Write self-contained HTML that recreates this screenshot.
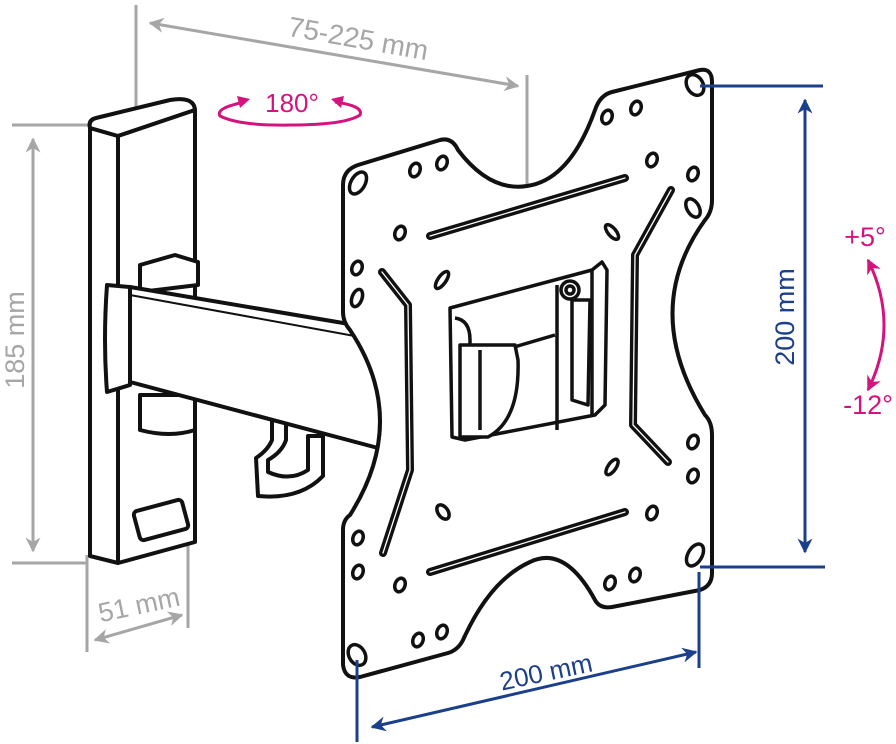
<!DOCTYPE html>
<html><head><meta charset="utf-8"><style>
html,body{margin:0;padding:0;background:#fff;}
svg{display:block;}
text{font-family:"Liberation Sans","DejaVu Sans",sans-serif;}
</style></head><body>
<svg width="896" height="744" viewBox="0 0 896 744" xmlns="http://www.w3.org/2000/svg">
<defs>
<marker id="ag" viewBox="0 0 10 10" refX="9" refY="5" markerWidth="5" markerHeight="5" orient="auto-start-reverse"><path d="M0,0 L10,5 L0,10 L3,5 Z" fill="#a6a6a6"/></marker>
<marker id="ab" viewBox="0 0 10 10" refX="9" refY="5" markerWidth="5" markerHeight="5" orient="auto-start-reverse"><path d="M0,0 L10,5 L0,10 L3,5 Z" fill="#1b3f8b"/></marker>
<marker id="am" viewBox="0 0 10 10" refX="9" refY="5" markerWidth="5" markerHeight="5" orient="auto-start-reverse"><path d="M0,0 L10,5 L0,10 L3,5 Z" fill="#d4137f"/></marker>
</defs>

<g stroke="#a6a6a6" stroke-width="3" fill="none">
<line x1="136" y1="5" x2="136" y2="112"/>
<line x1="527" y1="75" x2="527" y2="187"/>
<line x1="150" y1="23" x2="518" y2="86" marker-start="url(#ag)" marker-end="url(#ag)"/>
<line x1="12" y1="125" x2="88" y2="125"/>
<line x1="12" y1="563" x2="88" y2="563"/>
<line x1="33" y1="139" x2="33" y2="551" marker-start="url(#ag)" marker-end="url(#ag)"/>
<line x1="87" y1="555" x2="87" y2="652"/>
<line x1="188" y1="543" x2="188" y2="628"/>
<line x1="95" y1="640" x2="182" y2="615" marker-start="url(#ag)" marker-end="url(#ag)"/>
</g>
<text x="358" y="48" font-size="28" fill="#a6a6a6" text-anchor="middle" transform="rotate(10 358 40)">75-225 mm</text>
<text x="15" y="349" font-size="27" fill="#a6a6a6" text-anchor="middle" transform="rotate(-90 15 340)">185 mm</text>
<text x="139" y="614" font-size="27" fill="#a6a6a6" text-anchor="middle" transform="rotate(-12 139 605)">51 mm</text>

<g stroke="#111" stroke-width="4" fill="#fff" stroke-linejoin="round">
<path d="M90,128 L118,136 L118,563 L90,556 Z"/>
<path d="M90,128 Q88,120 96,118 L170,100 Q194,96 195,110 L118,136 Z"/>
<path d="M118,136 L195,110 L195,542 L118,563 Z"/>
<rect x="136" y="505" width="50" height="30" rx="4" transform="rotate(-15 161 520)"/>
<path d="M140,265 L175,255 L198,262 L198,285 L140,292 Z"/>
<path d="M140,395 L195,395 L195,430 Q170,438 140,430 Z"/>
<path d="M272,420 L286,422 L286,440 Q282,452 268,460 L268,472 Q290,482 308,470 L308,436 L323,436 L323,476 Q300,500 258,496 L256,458 Q268,450 272,440 Z"/>
<path d="M130,287 L355,325 Q395,380 378,448 L130,382 Z"/>
<path d="M130,295 L360,337" fill="none" stroke-width="2"/>
<path d="M107,285 L130,287 L130,385 L107,392 Q103,340 107,285 Z"/>
</g>

<g stroke="#111" stroke-width="4" fill="#fff" stroke-linejoin="round">
<path d="M343,185 Q343,170 358,165 L440,140 Q452,137 458,150 Q490,192 527,186 Q570,180 595,110 Q600,95 612,92 L700,70 Q712,68 712,82 L712,200 Q712,212 705,220 Q640,310 705,415 Q712,422 712,435 L712,573 Q712,586 700,590 L612,607 Q600,609 595,600 Q565,545 530,562 Q490,580 463,640 Q458,650 448,653 L360,677 Q345,680 343,665 L343,530 Q343,520 350,515 Q410,420 350,330 Q343,322 343,312 Z"/>
</g>
<g stroke="#111" stroke-width="3.5" fill="#fff">
<ellipse cx="358" cy="183" rx="7" ry="12" transform="rotate(30 358 183)"/>
<ellipse cx="695" cy="85" rx="8" ry="11" transform="rotate(-30 695 85)"/>
<ellipse cx="695" cy="555" rx="7" ry="12" transform="rotate(30 695 555)"/>
<ellipse cx="357" cy="655" rx="8" ry="11" transform="rotate(-30 357 655)"/>
<ellipse cx="415" cy="170" rx="5" ry="7" transform="rotate(20 415 170)"/>
<ellipse cx="442" cy="163" rx="5" ry="7" transform="rotate(20 442 163)"/>
<ellipse cx="607" cy="117" rx="5" ry="7" transform="rotate(20 607 117)"/>
<ellipse cx="636" cy="108" rx="5" ry="7" transform="rotate(20 636 108)"/>
<ellipse cx="652" cy="160" rx="5" ry="7" transform="rotate(20 652 160)"/>
<ellipse cx="693" cy="174" rx="5" ry="7" transform="rotate(20 693 174)"/>
<ellipse cx="693" cy="208" rx="6" ry="10" transform="rotate(-30 693 208)"/>
<ellipse cx="400" cy="233" rx="5" ry="7" transform="rotate(20 400 233)"/>
<ellipse cx="612" cy="232" rx="4" ry="9" transform="rotate(-40 612 232)"/>
<ellipse cx="357" cy="268" rx="5" ry="7" transform="rotate(20 357 268)"/>
<ellipse cx="357" cy="298" rx="5" ry="9" transform="rotate(20 357 298)"/>
<ellipse cx="442" cy="280" rx="4" ry="10" transform="rotate(35 442 280)"/>
<ellipse cx="358" cy="538" rx="5" ry="7" transform="rotate(20 358 538)"/>
<ellipse cx="358" cy="572" rx="5" ry="7" transform="rotate(20 358 572)"/>
<ellipse cx="400" cy="585" rx="5" ry="7" transform="rotate(20 400 585)"/>
<ellipse cx="418" cy="640" rx="5" ry="7" transform="rotate(20 418 640)"/>
<ellipse cx="442" cy="632" rx="5" ry="7" transform="rotate(20 442 632)"/>
<ellipse cx="610" cy="583" rx="5" ry="7" transform="rotate(20 610 583)"/>
<ellipse cx="635" cy="575" rx="5" ry="7" transform="rotate(20 635 575)"/>
<ellipse cx="652" cy="513" rx="5" ry="7" transform="rotate(20 652 513)"/>
<ellipse cx="693" cy="442" rx="5" ry="7" transform="rotate(20 693 442)"/>
<ellipse cx="693" cy="476" rx="5" ry="7" transform="rotate(20 693 476)"/>
<ellipse cx="612" cy="467" rx="4" ry="9" transform="rotate(35 612 467)"/>
<ellipse cx="443" cy="512" rx="5" ry="8" transform="rotate(-35 443 512)"/>
<ellipse cx="530" cy="405" rx="5" ry="7" transform="rotate(20 530 405)"/>
</g>
<g stroke="#111" fill="none" stroke-linecap="round" stroke-linejoin="round">
<g stroke-width="8">
<path d="M430,236 L625,178"/>
<path d="M430,572 L625,512"/>
<path d="M382,272 L408,305 L410,470 L383,553"/>
<path d="M671,190 L635,255 L633,425 L668,462"/>
</g>
<g stroke="#fff" stroke-width="1.3">
<path d="M430,236 L625,178"/>
<path d="M430,572 L625,512"/>
<path d="M382,272 L408,305 L410,470 L383,553"/>
<path d="M671,190 L635,255 L633,425 L668,462"/>
</g>
</g>
<g stroke="#111" stroke-width="3.5" fill="#fff" stroke-linejoin="round">
<path d="M450,308 L592,270 L602,262 L607,270 L605,405 L595,415 L465,440 L452,437 Z"/>
<path d="M455,318 Q470,320 470,340 L470,360 L555,335" fill="none"/>
<path d="M460,345 L515,345 L518,360 Q520,420 488,437 L460,437 Z"/>
<path d="M480,350 L480,430" fill="none"/>
<path d="M557,285 L557,430" fill="none"/>
<path d="M572,300 L572,400 L588,405 L590,300 Z"/>
<circle cx="570" cy="290" r="9"/>
<circle cx="570" cy="290" r="4"/>
<path d="M592,270 L592,415" fill="none"/>
</g>

<g stroke="#1b3f8b" stroke-width="3" fill="none">
<line x1="700" y1="86" x2="823" y2="86"/>
<line x1="700" y1="567" x2="825" y2="567"/>
<line x1="805" y1="100" x2="805" y2="552" marker-start="url(#ab)" marker-end="url(#ab)"/>
<line x1="357" y1="660" x2="357" y2="742"/>
<line x1="699" y1="572" x2="699" y2="668"/>
<line x1="372" y1="727" x2="696" y2="652" marker-start="url(#ab)" marker-end="url(#ab)"/>
</g>
<text x="785" y="326" font-size="27" fill="#1b3f8b" text-anchor="middle" transform="rotate(-90 785 317)">200 mm</text>
<text x="546" y="681" font-size="26" fill="#1b3f8b" text-anchor="middle" transform="rotate(-12 546 672)">200 mm</text>

<text x="292" y="112" font-size="26" fill="#d4137f" text-anchor="middle">180°</text>
<path d="M245,102 Q215,108 220,116 Q240,126 290,125 Q345,125 360,115 Q364,106 335,102" fill="none" stroke="#d4137f" stroke-width="3"/>
<path d="M250,99 L237,96 L240,108 Z" fill="#d4137f"/>
<path d="M331,99 L344,96 L341,108 Z" fill="#d4137f"/>
<text x="865" y="246" font-size="27" fill="#d4137f" text-anchor="middle">+5°</text>
<text x="868" y="414" font-size="27" fill="#d4137f" text-anchor="middle">-12°</text>
<path d="M868,260 Q900,325 868,390" fill="none" stroke="#d4137f" stroke-width="3" marker-start="url(#am)" marker-end="url(#am)"/>
</svg>
</body></html>
